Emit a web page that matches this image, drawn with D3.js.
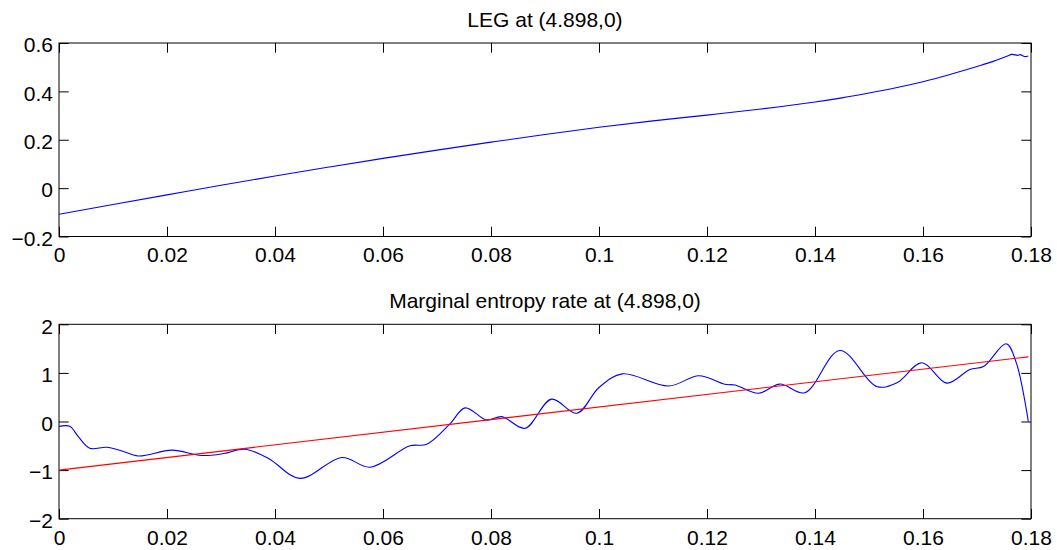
<!DOCTYPE html>
<html>
<head>
<meta charset="utf-8">
<script src="https://d3js.org/d3.v7.min.js"></script>
<style>
  body { margin: 0; background: #fff; }
  text { font-family: "Liberation Sans", Arial, Helvetica, sans-serif; }
</style>
</head>
<body>
<svg id="drawing_region"></svg>
<script>
// top panel: LEG
const leg_x = [0, 0.01, 0.02, 0.03, 0.04, 0.05, 0.06, 0.07, 0.08, 0.09, 0.1, 0.11, 0.12, 0.13, 0.14, 0.145, 0.15, 0.155, 0.16, 0.165, 0.17, 0.173, 0.1755, 0.1765, 0.1775, 0.178, 0.1788, 0.1795];
const leg_y = [-0.108, -0.068, -0.028, 0.012, 0.05, 0.087, 0.123, 0.157, 0.19, 0.222, 0.252, 0.278, 0.302, 0.327, 0.356, 0.373, 0.393, 0.415, 0.44, 0.47, 0.503, 0.524, 0.545, 0.553, 0.549, 0.552, 0.544, 0.546];

// bottom panel: marginal entropy rate
const mer_x = [0, 0.002, 0.0035, 0.0057, 0.0088, 0.0115, 0.0147, 0.0209, 0.0264, 0.0305, 0.0344, 0.0388, 0.0446, 0.0524, 0.0576, 0.065, 0.0681, 0.0724, 0.0752, 0.0792, 0.082, 0.0863, 0.0912, 0.0959, 0.1, 0.1043, 0.1129, 0.1185, 0.1233, 0.1252, 0.1295, 0.1335, 0.1381, 0.1446, 0.1514, 0.1551, 0.1598, 0.1644, 0.1687, 0.1712, 0.1754, 0.1773, 0.1795];
const mer_y = [-0.1, -0.1, -0.3, -0.55, -0.53, -0.6, -0.71, -0.59, -0.7, -0.66, -0.57, -0.76, -1.17, -0.74, -0.94, -0.5, -0.47, -0.05, 0.28, 0.03, 0.1, -0.14, 0.46, 0.17, 0.7, 0.98, 0.73, 0.94, 0.765, 0.75, 0.58, 0.77, 0.59, 1.46, 0.72, 0.79, 1.21, 0.79, 1.07, 1.13, 1.6, 1.2, 0.0];

// linear fit (red)
const fit_x = [0, 0.1795];
const fit_y = [-1.0, 1.33];

const x_ticks = [0, 0.02, 0.04, 0.06, 0.08, 0.1, 0.12, 0.14, 0.16, 0.18];
const top_y_ticks = [-0.2, 0, 0.2, 0.4, 0.6];
const bot_y_ticks = [-2, -1, 0, 1, 2];

const svg = d3.select('#drawing_region')
    .attr('width', 1057)
    .attr('height', 550);

const fmt = d => (d < 0 ? '\u2212' : '') + String(Math.abs(d));

function panel(cfg) {
    const xs = d3.scaleLinear().domain([0, 0.18]).range([cfg.left, cfg.right]);
    const ys = d3.scaleLinear().domain(cfg.ydomain).range([cfg.bottom, cfg.top]);
    const g = svg.append('g');
    const tick = 9.7;

    // box ticks, MATLAB style (inward)
    g.append('g').attr('transform', `translate(0,${cfg.bottom})`)
        .call(d3.axisBottom(xs).tickValues(x_ticks).tickSizeInner(-tick).tickSizeOuter(0).tickPadding(11).tickFormat(fmt));
    g.append('g').attr('transform', `translate(0,${cfg.top})`)
        .call(d3.axisTop(xs).tickValues(x_ticks).tickSizeInner(-tick).tickSizeOuter(0).tickFormat(''));
    g.append('g').attr('class', 'yleft').attr('transform', `translate(${cfg.left},0)`)
        .call(d3.axisLeft(ys).tickValues(cfg.yticks).tickSizeInner(-tick).tickSizeOuter(0).tickPadding(6).tickFormat(fmt));
    g.append('g').attr('transform', `translate(${cfg.right},0)`)
        .call(d3.axisRight(ys).tickValues(cfg.yticks).tickSizeInner(-tick).tickSizeOuter(0).tickFormat(''));

    g.selectAll('.domain').remove();
    g.selectAll('.tick line').attr('stroke', '#000');
    g.selectAll('.tick text')
        .attr('fill', '#000')
        .style('font-size', '21px');
    g.selectAll('.yleft .tick text').attr('dy', '0.42em');

    g.append('rect')
        .attr('x', cfg.left).attr('y', cfg.top)
        .attr('width', cfg.right - cfg.left).attr('height', cfg.bottom - cfg.top)
        .attr('fill', 'none').attr('stroke', '#000').attr('stroke-width', 1);

    const line = d3.line()
        .x(d => xs(d[0]))
        .y(d => ys(d[1]))
        .curve(d3.curveCatmullRom.alpha(0.5));

    cfg.series.forEach(s => {
        g.append('path')
            .datum(d3.zip(s.x, s.y))
            .attr('fill', 'none')
            .attr('stroke', s.color)
            .attr('stroke-width', 1.1)
            .attr('d', line);
    });

    g.append('text')
        .attr('x', (cfg.left + cfg.right) / 2)
        .attr('y', cfg.titleY)
        .attr('text-anchor', 'middle')
        .style('font-size', '21px')
        .text(cfg.title);
}

panel({
    left: 59, right: 1031, top: 43, bottom: 236.5,
    ydomain: [-0.2, 0.6], yticks: top_y_ticks,
    title: 'LEG at (4.898,0)', titleY: 27,
    series: [{ x: leg_x, y: leg_y, color: '#0000ff' }]
});

panel({
    left: 59, right: 1031, top: 324.3, bottom: 518.7,
    ydomain: [-2, 2], yticks: bot_y_ticks,
    title: 'Marginal entropy rate at (4.898,0)', titleY: 308,
    series: [
        { x: mer_x, y: mer_y, color: '#0000ff' },
        { x: fit_x, y: fit_y, color: '#ff0000' }
    ]
});
</script>
</body>
</html>
